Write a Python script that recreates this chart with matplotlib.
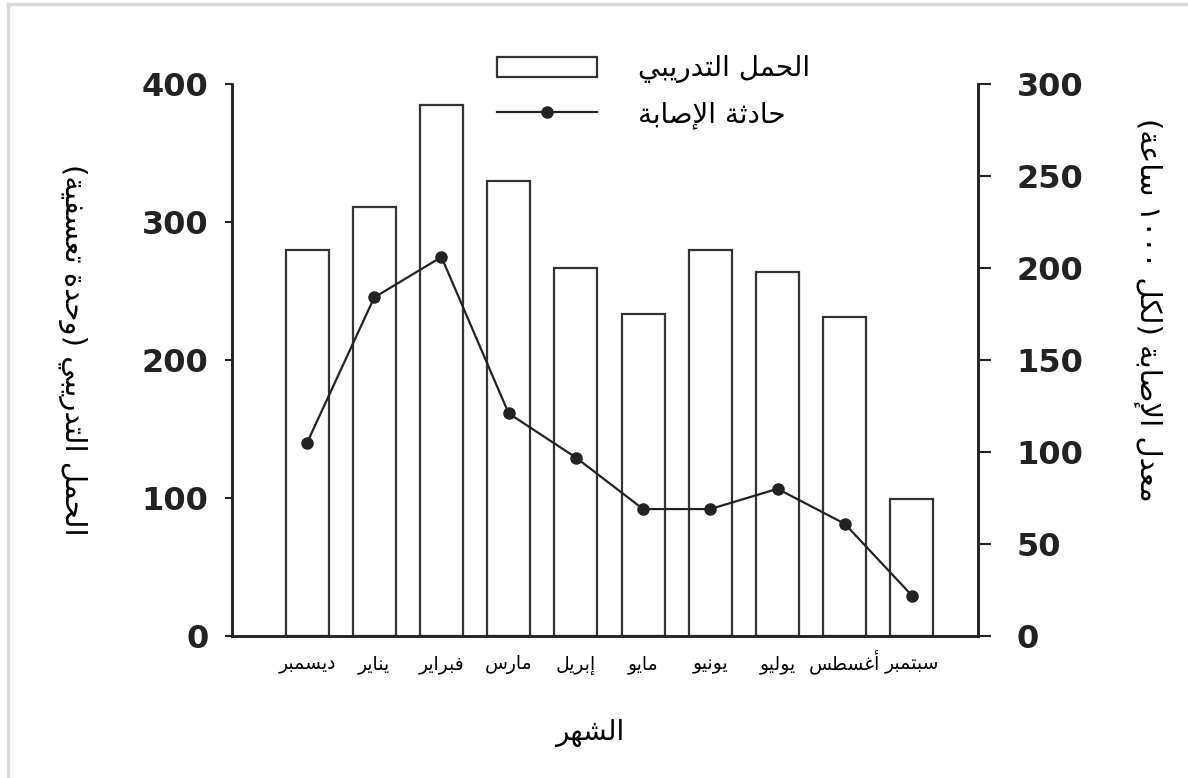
import re
import numpy as np
import matplotlib
matplotlib.use("Agg")
import matplotlib.pyplot as plt
from matplotlib.lines import Line2D

# data
months = ["ديسمبر", "يناير", "فبراير", "مارس", "إبريل", "مايو",
          "يونيو", "يوليو", "أغسطس", "سبتمبر"]
training_load = [280, 311, 385, 330, 267, 233, 280, 264, 231, 99]
injury_rate = [105, 184, 206, 121, 97, 69, 69, 80, 61, 22]

left_ticks = [0, 100, 200, 300, 400]
right_ticks = [0, 50, 100, 150, 200, 250, 300]

label_load = "الحمل التدريبي"
label_injury = "حادثة الإصابة"
ylabel_left = "الحمل التدريبي (وحدة تعسفية)"
ylabel_right = "معدل الإصابة (لكل ١٠٠٠ ساعة)"
xlabel = "الشهر"

# matplotlib has no arabic shaping, so use presentation forms (iso, fin, ini, med)
FORMS = {
    'ا': ('\uFE8D', '\uFE8E', None, None),
    'أ': ('\uFE83', '\uFE84', None, None),
    'إ': ('\uFE87', '\uFE88', None, None),
    'ب': ('\uFE8F', '\uFE90', '\uFE91', '\uFE92'),
    'ة': ('\uFE93', '\uFE94', None, None),
    'ت': ('\uFE95', '\uFE96', '\uFE97', '\uFE98'),
    'ث': ('\uFE99', '\uFE9A', '\uFE9B', '\uFE9C'),
    'ح': ('\uFEA1', '\uFEA2', '\uFEA3', '\uFEA4'),
    'د': ('\uFEA9', '\uFEAA', None, None),
    'ر': ('\uFEAD', '\uFEAE', None, None),
    'س': ('\uFEB1', '\uFEB2', '\uFEB3', '\uFEB4'),
    'ش': ('\uFEB5', '\uFEB6', '\uFEB7', '\uFEB8'),
    'ص': ('\uFEB9', '\uFEBA', '\uFEBB', '\uFEBC'),
    'ط': ('\uFEC1', '\uFEC2', '\uFEC3', '\uFEC4'),
    'ع': ('\uFEC9', '\uFECA', '\uFECB', '\uFECC'),
    'غ': ('\uFECD', '\uFECE', '\uFECF', '\uFED0'),
    'ف': ('\uFED1', '\uFED2', '\uFED3', '\uFED4'),
    'ك': ('\uFED9', '\uFEDA', '\uFEDB', '\uFEDC'),
    'ل': ('\uFEDD', '\uFEDE', '\uFEDF', '\uFEE0'),
    'م': ('\uFEE1', '\uFEE2', '\uFEE3', '\uFEE4'),
    'ن': ('\uFEE5', '\uFEE6', '\uFEE7', '\uFEE8'),
    'ه': ('\uFEE9', '\uFEEA', '\uFEEB', '\uFEEC'),
    'و': ('\uFEED', '\uFEEE', None, None),
    'ي': ('\uFEF1', '\uFEF2', '\uFEF3', '\uFEF4'),
    '\uFEF9': ('\uFEF9', '\uFEFA', None, None),   # lam + alef hamza below
    '\uFEF7': ('\uFEF7', '\uFEF8', None, None),   # lam + alef hamza above
    '\uFEFB': ('\uFEFB', '\uFEFC', None, None),   # lam + alef
}


def ar(text):
    """shape arabic text and put it in visual (left to right) order"""
    s = text.replace('لإ', '\uFEF9').replace('لأ', '\uFEF7').replace('لا', '\uFEFB')
    out = []
    for i, c in enumerate(s):
        if c not in FORMS:
            out.append(c)
            continue
        iso, fin, ini, med = FORMS[c]
        prev = s[i - 1] if i > 0 else ''
        nxt = s[i + 1] if i + 1 < len(s) else ''
        p = prev in FORMS and FORMS[prev][2] is not None
        n = nxt in FORMS and ini is not None
        if p and n:
            out.append(med)
        elif p:
            out.append(fin)
        elif n:
            out.append(ini)
        else:
            out.append(iso)
    vis = ''.join(out)[::-1]
    vis = re.sub(r'[0-9\u0660-\u0669]+', lambda m: m.group(0)[::-1], vis)
    return vis.translate(str.maketrans('()', ')('))


x = np.arange(len(months))

fig = plt.figure(figsize=(11.88, 7.78), dpi=100)
ax = fig.add_axes([0.1953, 0.1825, 0.6279, 0.7095])
ax2 = ax.twinx()

ink = '#222222'

ax.bar(x, training_load, width=0.64, color='white', edgecolor='#333333', linewidth=1.6,
       zorder=2)
ax2.plot(x, injury_rate, color=ink, linewidth=1.6, marker='o', markersize=8,
         markerfacecolor=ink, markeredgecolor=ink)

ax.set_xlim(-1.116, 9.982)
ax.set_ylim(0, 400)
ax2.set_ylim(0, 300)

ax.set_yticks(left_ticks)
ax2.set_yticks(right_ticks)
ax.set_xticks(x)
ax.set_xticklabels([ar(m) for m in months], fontsize=13.5, family='DejaVu Sans',
                   va='baseline')

for a in (ax, ax2):
    a.spines['top'].set_visible(False)
    for sp in a.spines.values():
        sp.set_color(ink)
        sp.set_linewidth(1.8)

ax.tick_params(axis='y', direction='out', length=5, width=1.5, color=ink, pad=12,
               labelsize=23)
ax2.tick_params(axis='y', direction='out', length=9, width=1.5, color=ink, pad=19,
                labelsize=23)
ax.tick_params(axis='x', length=0, pad=24)
for lbl in ax.get_yticklabels() + ax2.get_yticklabels():
    lbl.set_fontweight('bold')
    lbl.set_color(ink)

ax.set_ylabel(ar(ylabel_left), rotation=270, fontsize=21, va='center')
ax.yaxis.set_label_coords(-0.213, 0.518)
ax2.set_ylabel(ar(ylabel_right), rotation=270, fontsize=21, va='center')
ax2.yaxis.set_label_coords(1.228, 0.59)
ax.set_xlabel(ar(xlabel), fontsize=20)
ax.xaxis.set_label_coords(0.48, -0.15)

# legend
handles = [
    plt.Rectangle((0, 0), 1, 1, facecolor='white', edgecolor='#333333', linewidth=1.6),
    Line2D([], [], color=ink, linewidth=1.6, marker='o', markersize=8,
           markevery=[1]),
]
leg = fig.legend(handles, [ar(label_load), ar(label_injury)], loc='upper left',
                 bbox_to_anchor=(0.418, 0.93), frameon=False, fontsize=20,
                 handlelength=3.6, handleheight=0.75, handletextpad=1.5,
                 labelspacing=0.6, borderpad=0, borderaxespad=0)

# light gray frame on top and left like the scan
fig.add_artist(Line2D([8 / 1188, 1], [1 - 4 / 778, 1 - 4 / 778],
                      transform=fig.transFigure, color='#d9d9d9', linewidth=2.5))
fig.add_artist(Line2D([8 / 1188, 8 / 1188], [0, 1 - 4 / 778],
                      transform=fig.transFigure, color='#d9d9d9', linewidth=2.5))

fig.savefig('out.png', dpi=100)
